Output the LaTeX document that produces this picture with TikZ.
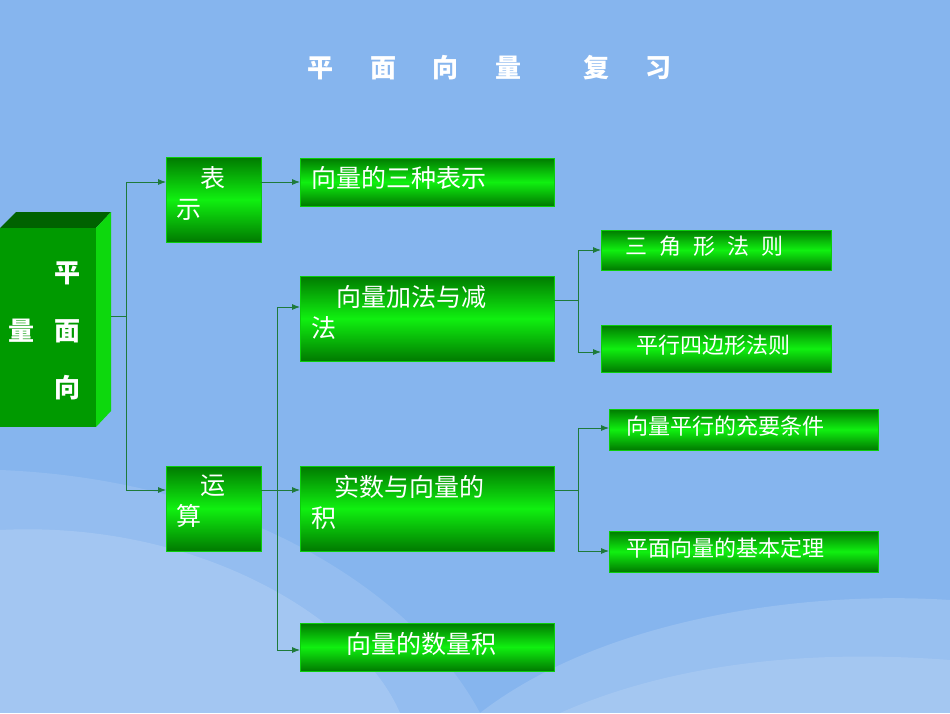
\documentclass[tikz,border=0pt]{standalone}
\usepackage{fontspec}
\newfontfamily\cjk{Noto Sans CJK SC}
\usetikzlibrary{arrows.meta}
\definecolor{bg}{HTML}{86B5EE}
\definecolor{dg}{HTML}{007A00}
\definecolor{fg}{HTML}{009A00}
\definecolor{lg}{HTML}{10F010}
\definecolor{ln}{HTML}{1E7A3A}
\tikzset{
 gbox/.style={draw=lg!70!dg,line width=0.8pt,top color=dg,bottom color=dg,middle color=lg,shading angle=0},
 tx/.style={text=white,font=\cjk\fontsize{25}{31}\selectfont,align=left,anchor=north west,inner sep=0pt},
 sx/.style={tx,font=\cjk\fontsize{22}{26}\selectfont},
 bx/.style={text=white,font=\cjk\bfseries\fontsize{26}{30}\selectfont},
 con/.style={draw=ln,line width=0.8pt},
 arr/.style={con,-{Latex[length=8pt,width=6pt]}}
}
\begin{document}
\begin{tikzpicture}[x=1pt,y=-1pt]
\fill[bg] (0,0) rectangle (950,713);
\useasboundingbox (0,0) rectangle (950,713);
% swooshes
\fill[white,opacity=0.12] (0,470) .. controls (250,480) and (420,600) .. (480,713) -- (0,713) -- cycle;
\fill[white,opacity=0.15] (0,530) .. controls (200,520) and (360,620) .. (400,713) -- (0,713) -- cycle;
\fill[white,opacity=0.15] (480,713) .. controls (600,620) and (800,590) .. (950,600) -- (950,713) -- cycle;
\fill[white,opacity=0.12] (560,713) .. controls (680,660) and (820,650) .. (950,660) -- (950,713) -- cycle;
\node[bx] (t1) at (320,68) {平};
\node[bx] (t2) at (383,68) {面};
\node[bx] (t3) at (445,68) {向};
\node[bx] (t4) at (508,68) {量};
\node[bx] (t5) at (596,68) {复};
\node[bx] (t6) at (658,68) {习};
% 3D box
\fill[dg!80!black] (0,228) -- (16,212) -- (111,212) -- (96,228) -- cycle;
\fill[lg!80!dg] (96,228) -- (111,212) -- (111,411) -- (96,427) -- cycle;
\fill[fg] (0,228) rectangle (96,427);
\coordinate (L) at (111,316);
\node[bx] (p1) at (67,273) {平};
\node[bx] (p2) at (67,331) {面};
\node[bx] (p3) at (67,388) {向};
\node[bx] (p4) at (22,331) {量};
% boxes
\path[gbox] (166,157) rectangle (261,242);
\node[tx] (bs) at (176,166) {\hspace{24pt}表\\示};
\coordinate (bsW) at (166,182); \coordinate (bsE) at (261,182);
\path[gbox] (166,466) rectangle (261,551);
\node[tx] (ys) at (176,475) {\hspace{24pt}运\\算};
\coordinate (ysW) at (166,490); \coordinate (ysE) at (261,490);
\path[gbox] (300,158) rectangle (554,206);
\node[tx] (b1) at (311,166) {向量的三种表示};
\coordinate (b1W) at (300,182);
\path[gbox] (300,276) rectangle (554,361);
\node[tx] (b2) at (311,285) {\hspace{25pt}向量加法与减\\法};
\coordinate (b2W) at (300,307); \coordinate (b2E) at (554,300);
\path[gbox] (300,466) rectangle (554,551);
\node[tx] (b3) at (311,475) {\hspace{23pt}实数与向量的\\积};
\coordinate (b3W) at (300,490); \coordinate (b3E) at (554,490);
\path[gbox] (300,623) rectangle (554,671);
\node[tx] (b4) at (311,632) {\hspace{35pt}向量的数量积};
\coordinate (b4W) at (300,650);
\path[gbox] (601,230) rectangle (831,270);
\node[sx] (c1) at (625,236) {三\hspace{12pt}角\hspace{12pt}形\hspace{12pt}法\hspace{12pt}则};
\path[gbox] (601,325) rectangle (831,372);
\node[sx] (c2) at (636,335) {平行四边形法则};
\path[gbox] (609,409) rectangle (878,450);
\node[sx] (c3) at (626,416) {向量平行的充要条件};
\path[gbox] (609,531) rectangle (878,572);
\node[sx] (c4) at (626,538) {平面向量的基本定理};
% connectors
\draw[con] (L) -- (126,316);
\draw[arr] (126,316) |- (bsW);
\draw[arr] (126,316) |- (ysW);
\draw[arr] (bsE) -- (b1W);
\draw[arr] (ysE) -- (b3W);
\draw[arr] (277,490) |- (b2W);
\draw[arr] (277,490) |- (b4W);
\draw[con] (b2E) -- (578,300);
\draw[arr] (578,300) |- (601,250);
\draw[arr] (578,300) |- (601,352);
\draw[con] (b3E) -- (578,490);
\draw[arr] (578,490) |- (609,428);
\draw[arr] (578,490) |- (609,551);
\end{tikzpicture}
\end{document}
